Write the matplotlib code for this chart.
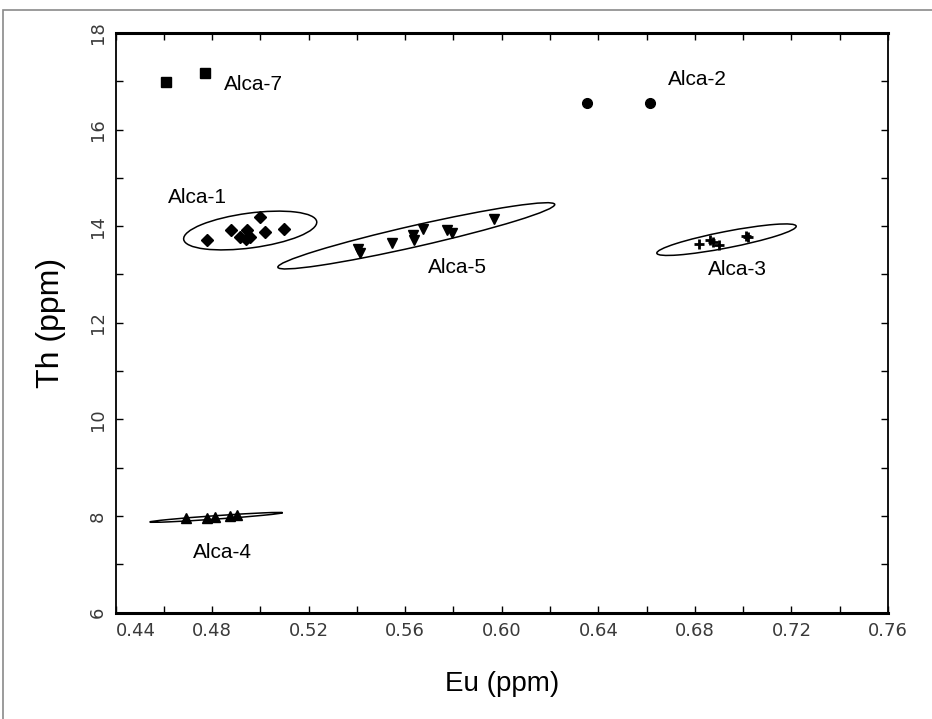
# -*- coding: utf-8 -*-
"""
    Diagramme Th vs Eu des groupes Alca
"""

import matplotlib
matplotlib.use("Agg")
import matplotlib.pyplot as plt
from matplotlib.patches import Ellipse, Rectangle
from matplotlib.ticker import MultipleLocator
from matplotlib.transforms import Affine2D

#========== DATA ==========#

alca7_eu = [0.4609, 0.4771]
alca7_th = [16.99, 17.18]

alca2_eu = [0.6354, 0.6616]
alca2_th = [16.56, 16.56]

alca1_eu = [0.4779, 0.4879, 0.4916, 0.4945, 0.4958, 0.4940, 0.4999, 0.5020, 0.5098]
alca1_th = [13.72, 13.93, 13.78, 13.93, 13.78, 13.74, 14.18, 13.88, 13.95]

alca5_eu = [0.5405, 0.5413, 0.5546, 0.5633, 0.5637, 0.5675, 0.5774, 0.5795, 0.5969]
alca5_th = [13.52, 13.44, 13.65, 13.82, 13.71, 13.94, 13.92, 13.85, 14.15]

alca3_eu = [0.6819, 0.6864, 0.6877, 0.6902, 0.7010, 0.7022]
alca3_th = [13.63, 13.71, 13.67, 13.61, 13.79, 13.77]

alca4_eu = [0.4692, 0.4779, 0.4812, 0.4875, 0.4904]
alca4_th = [7.95, 7.95, 7.97, 7.99, 8.01]

# ellipses : centre Eu, centre Th, longueur, epaisseur (unites 0.04 Eu / 2 Th), angle
ell_names = ["Alca-1", "Alca-5", "Alca-3", "Alca-4"]
ell_eu = [0.4958, 0.5646, 0.6931, 0.4817]
ell_th = [13.91, 13.80, 13.72, 7.97]
ell_len = [1.39, 2.94, 1.47, 1.38]
ell_wid = [0.36, 0.22, 0.17, 0.035]
ell_ang = [7.6, 12.8, 11.0, 4.0]

label_names = ["Alca-7", "Alca-2", "Alca-1", "Alca-5", "Alca-3", "Alca-4"]
label_eu = [0.4850, 0.6690, 0.4617, 0.5695, 0.6856, 0.4721]
label_th = [16.93, 17.04, 14.59, 13.14, 13.10, 7.25]

x_ticks = [0.44, 0.48, 0.52, 0.56, 0.60, 0.64, 0.68, 0.72, 0.76]
y_ticks = [6, 8, 10, 12, 14, 16, 18]

#========== PLOT ==========#

fig = plt.figure(figsize=(9.32, 7.19), dpi=100)
fig.patches.append(Rectangle((3 / 932, -0.05), 1.0, 1 - 10 / 719 + 0.05,
                             transform=fig.transFigure, fill=False,
                             edgecolor="#8a8a8a", linewidth=1.2))
ax = fig.add_axes([115.5 / 932, 1 - 612.5 / 719, (888 - 115.5) / 932,
                   (612.5 - 33) / 719])

ax.set_xlim(0.44, 0.76)
ax.set_ylim(6, 18)

ms = 7
ax.plot(alca7_eu, alca7_th, "s", color="black", ms=ms - 0.5)
ax.plot(alca2_eu, alca2_th, "o", color="black", ms=ms)
ax.plot(alca1_eu, alca1_th, "D", color="black", ms=ms - 1)
ax.plot(alca5_eu, alca5_th, "v", color="black", ms=ms)
ax.plot(alca3_eu, alca3_th, "+", color="black", ms=ms, mew=2)
ax.plot(alca4_eu, alca4_th, "^", color="black", ms=ms)

# ellipses dessinees dans un repere normalise (0.04 Eu ~ 2 Th)
to_data = Affine2D().scale(0.04, 2.0) + ax.transData
for i in range(len(ell_names)):
    e = Ellipse((ell_eu[i] / 0.04, ell_th[i] / 2.0), ell_len[i], ell_wid[i],
                angle=ell_ang[i], fill=False, edgecolor="black",
                linewidth=1.1, transform=to_data)
    ax.add_patch(e)

for name, xx, yy in zip(label_names, label_eu, label_th):
    ax.text(xx, yy, name, fontsize=15, family="Liberation Sans",
            ha="left", va="center")

ax.set_xticks(x_ticks)
ax.set_yticks(y_ticks)
ax.xaxis.set_minor_locator(MultipleLocator(0.02))
ax.yaxis.set_minor_locator(MultipleLocator(1))
ax.set_xticklabels(["%.2f" % t for t in x_ticks])
ax.tick_params(which="both", direction="in", top=True, right=True,
               length=5, width=1, labelsize=13, labelcolor="#3a3a3a")
ax.tick_params(axis="x", pad=7)
ax.tick_params(axis="y", pad=6)
for lab in ax.get_yticklabels():
    lab.set_rotation(90)
    lab.set_va("center")
ax.get_xticklabels()[0].set_ha("left")

for side in ["top", "bottom"]:
    ax.spines[side].set_linewidth(2.2)
for side in ["left", "right"]:
    ax.spines[side].set_linewidth(1.3)

ax.set_xlabel("Eu (ppm)", fontsize=20, family="Liberation Sans", labelpad=22)
ax.set_ylabel("Th (ppm)", fontsize=23, family="Liberation Sans", labelpad=17)

fig.savefig("out.png", dpi=100)
